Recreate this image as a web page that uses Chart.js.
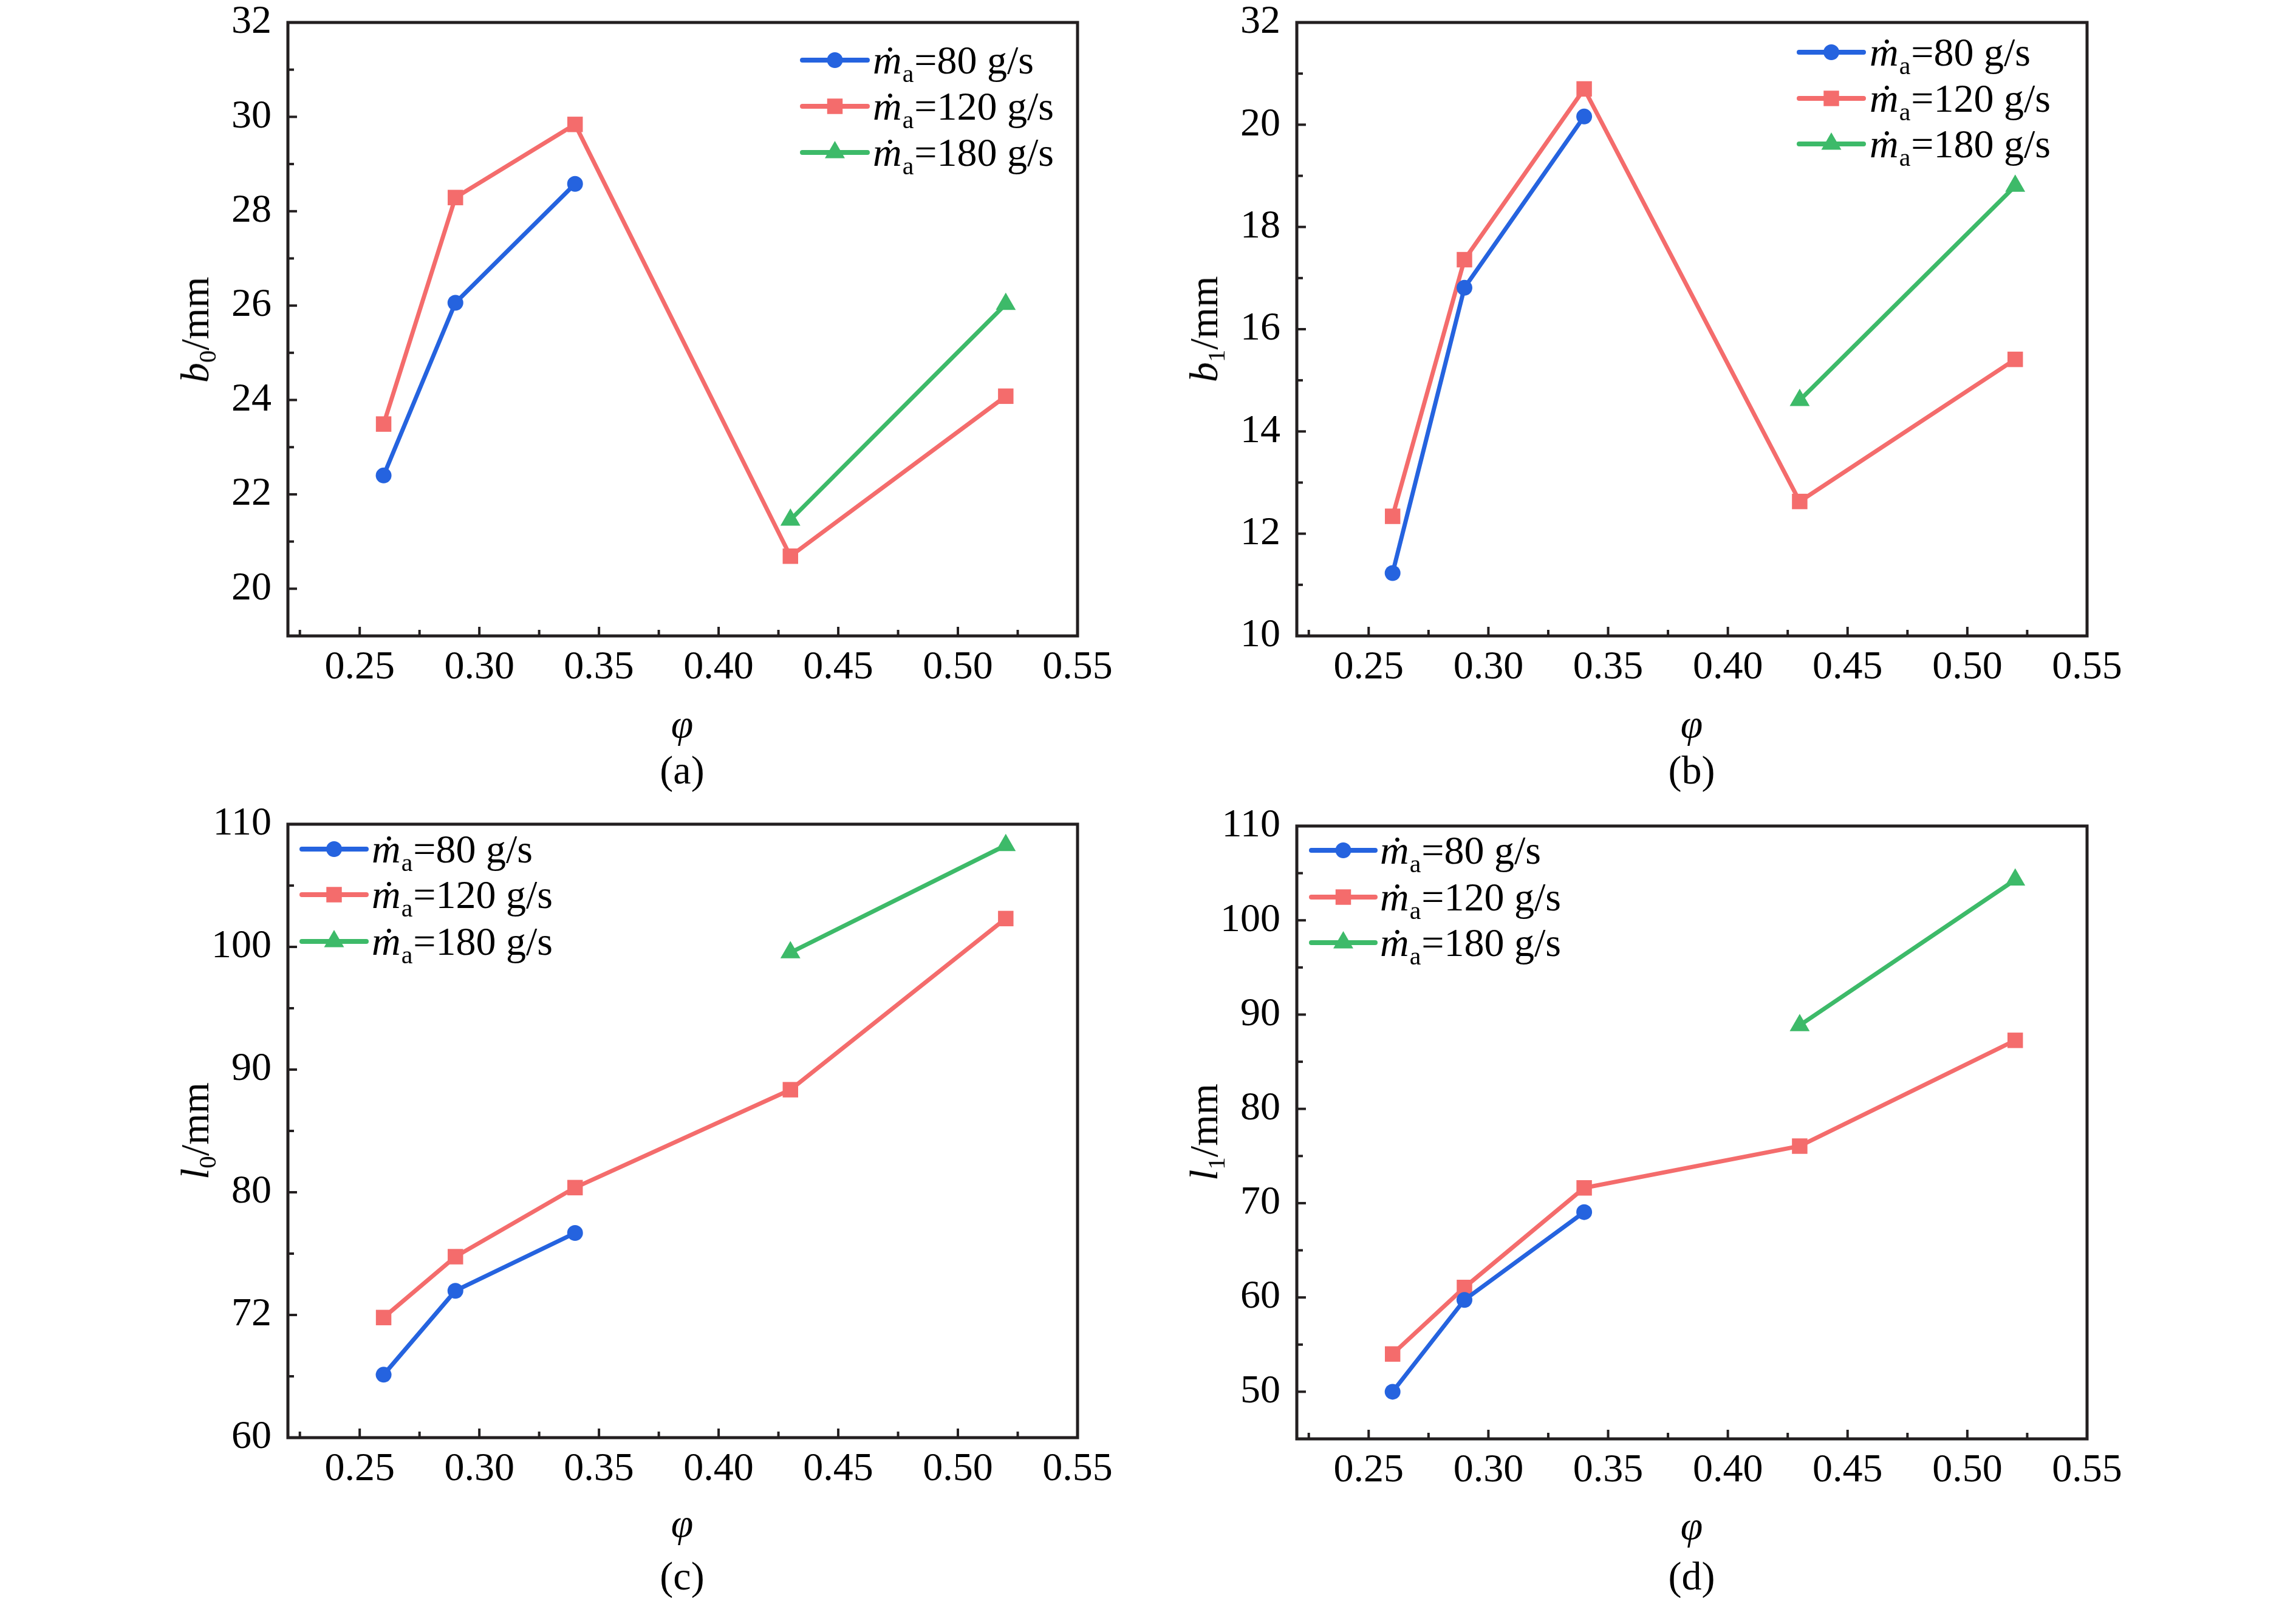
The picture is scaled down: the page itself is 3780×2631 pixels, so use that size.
<!DOCTYPE html>
<html><head><meta charset="utf-8">
<script src="https://cdn.jsdelivr.net/npm/chart.js@4.4.1/dist/chart.umd.min.js"></script>
<style>
html,body{margin:0;padding:0;background:#fff;}
#wrap{position:relative;width:3780px;height:2631px;overflow:hidden;background:#fff;}
canvas{position:absolute;}
.t{position:absolute;font-family:"Liberation Serif","Times New Roman",serif;font-size:66px;line-height:1;white-space:nowrap;color:#000;transform:translate(-50%,-50%);}
.rot{transform:translate(-50%,-50%) rotate(-90deg);}
.t sub{font-size:0.62em;vertical-align:baseline;position:relative;top:0.3em;}
</style></head><body><div id="wrap"></div>
<script>
// ---- data ----
const phi120 = [0.26, 0.29, 0.34, 0.43, 0.52];
const phi80  = [0.26, 0.29, 0.34];
const phi180 = [0.43, 0.52];
const seriesLabels = ['80 g/s', '120 g/s', '180 g/s'];

const b0_80  = [22.40, 26.06, 28.58];
const b0_120 = [23.49, 28.29, 29.84, 20.69, 24.08];
const b0_180 = [21.46, 26.03];

const b1_80  = [11.23, 16.81, 20.16];
const b1_120 = [12.34, 17.36, 20.70, 12.63, 15.41];
const b1_180 = [14.61, 18.80];

const l0_80  = [65.13, 71.97, 76.68];
const l0_120 = [69.79, 74.75, 80.38, 88.36, 102.31];
const l0_180 = [99.54, 108.28];

const l1_80  = [50.0, 59.74, 69.05];
const l1_120 = [54.0, 61.06, 71.62, 76.05, 87.27];
const l1_180 = [88.86, 104.3];

const xTickValues = [0.225,0.25,0.275,0.30,0.325,0.35,0.375,0.40,0.425,0.45,0.475,0.50,0.525,0.55];
const xTickLabels = ['','0.25','','0.30','','0.35','','0.40','','0.45','','0.50','','0.55'];

const aYTicks  = [19,20,21,22,23,24,25,26,27,28,29,30,31,32];
const aYLabels = ['','20','','22','','24','','26','','28','','30','','32'];
const bYTicks  = [10,11,12,13,14,15,16,17,18,19,20,21,22];
const bYLabels = ['10','','12','','14','','16','','18','','20','','32'];
const cYTicks  = [60,65,70,75,80,85,90,95,100,105,110];
const cYLabels = ['60','','72','','80','','90','','100','','110'];
const dYTicks  = [45,50,55,60,65,70,75,80,85,90,95,100,105,110];
const dYLabels = ['','50','','60','','70','','80','','90','','100','','110'];

// ---- styles ----
const BLUE = '#2563df', RED = '#f46c6c', GREEN = '#3dba69', AXIS = '#231f20';
const FONT = '"Liberation Serif", "Times New Roman", serif';

const panels = [
  {canvas:[0,0,1890,1180], area:[474,37,1774,1047], yMin:19, yMax:32, yTicks:aYTicks, yLabels:aYLabels,
   s80:b0_80, s120:b0_120, s180:b0_180, legend:{x0:1317,x1:1432,tx:1437,rows:[99,175,251]},
   yTitle:'<i>b</i><sub>0</sub>/mm', yTitlePos:[321,543], xTitlePos:[1123,1192], cap:'(a)', capPos:[1123,1268]},
  {canvas:[1890,0,1890,1180], area:[2135,37,3436,1047], yMin:10, yMax:22, yTicks:bYTicks, yLabels:bYLabels,
   s80:b1_80, s120:b1_120, s180:b1_180, legend:{x0:2958,x1:3072,tx:3078,rows:[86,162,237]},
   yTitle:'<i>b</i><sub>1</sub>/mm', yTitlePos:[1982,542], xTitlePos:[2785,1192], cap:'(b)', capPos:[2785,1268]},
  {canvas:[0,1300,1890,1180], area:[474,1357,1774,2367], yMin:60, yMax:110, yTicks:cYTicks, yLabels:cYLabels,
   s80:l0_80, s120:l0_120, s180:l0_180, legend:{x0:493,x1:607,tx:612,rows:[1398,1473,1550]},
   yTitle:'<i>l</i><sub>0</sub>/mm', yTitlePos:[321,1862], xTitlePos:[1123,2508], cap:'(c)', capPos:[1123,2595]},
  {canvas:[1890,1300,1890,1180], area:[2135,1360,3436,2369], yMin:45, yMax:110, yTicks:dYTicks, yLabels:dYLabels,
   s80:l1_80, s120:l1_120, s180:l1_180, legend:{x0:2155,x1:2268,tx:2272,rows:[1400,1477,1552]},
   yTitle:'<i>l</i><sub>1</sub>/mm', yTitlePos:[1982,1864], xTitlePos:[2785,2512], cap:'(d)', capPos:[2785,2595]}
];

const YW = 170, XH = 100;
const wrap = document.getElementById('wrap');

function pts(xs, ys){ return xs.map((x,i)=>({x:x, y:ys[i]})); }

function drawMarker(ctx, style, r, x, y, color){
  ctx.fillStyle = color;
  ctx.beginPath();
  if (style === 'circle') { ctx.arc(x, y, r, 0, Math.PI*2); }
  else if (style === 'rect') { const s = Math.SQRT1_2*r; ctx.rect(x-s, y-s, 2*s, 2*s); }
  else if (style === 'triangle') {
    ctx.moveTo(x, y - r);
    ctx.lineTo(x + Math.sin(2*Math.PI/3)*r, y + r/2);
    ctx.lineTo(x - Math.sin(2*Math.PI/3)*r, y + r/2);
    ctx.closePath();
  }
  ctx.fill();
}

function makePlugin(p){
  return {
    id: 'frameLegend',
    beforeDatasetsDraw(chart){
      const {ctx, chartArea:a, scales:{x, y}} = chart;
      ctx.save();
      ctx.strokeStyle = AXIS; ctx.lineWidth = 4;
      x.ticks.forEach((t,i)=>{
        const px = x.getPixelForValue(t.value), len = xTickLabels[i] ? 15 : 10;
        ctx.beginPath(); ctx.moveTo(px, a.bottom); ctx.lineTo(px, a.bottom - len); ctx.stroke();
      });
      y.ticks.forEach((t,i)=>{
        const py = y.getPixelForValue(t.value), len = p.yLabels[i] ? 15 : 10;
        ctx.beginPath(); ctx.moveTo(a.left, py); ctx.lineTo(a.left + len, py); ctx.stroke();
      });
      ctx.lineWidth = 5;
      ctx.strokeRect(a.left, a.top, a.right - a.left, a.bottom - a.top);
      ctx.restore();
    },
    afterDraw(chart){
      const ctx = chart.ctx, L = p.legend, ox = p.canvas[0], oy = p.canvas[1];
      ctx.save();
      chart.data.datasets.forEach((ds, i)=>{
        const yy = L.rows[i] - oy, x0 = L.x0 - ox, x1 = L.x1 - ox;
        ctx.strokeStyle = ds.borderColor; ctx.lineWidth = 8; ctx.lineCap = 'round';
        ctx.beginPath(); ctx.moveTo(x0 + 4, yy); ctx.lineTo(x1 - 4, yy); ctx.stroke();
        drawMarker(ctx, ds.pointStyle, ds.pointRadius, (x0+x1)/2, yy, ds.backgroundColor);
        let tx = L.tx - ox;
        ctx.fillStyle = '#000'; ctx.textBaseline = 'alphabetic'; ctx.textAlign = 'left';
        ctx.font = 'italic 66px ' + FONT;
        ctx.fillText('ṁ', tx, yy + 22); tx += ctx.measureText('ṁ').width;
        ctx.font = '42px ' + FONT;
        ctx.fillText('a', tx + 1, yy + 36); tx += ctx.measureText('a').width + 2;
        ctx.font = '66px ' + FONT;
        ctx.fillText('=' + ds.label, tx, yy + 22);
      });
      ctx.restore();
    }
  };
}

panels.forEach(p=>{
  const [cx, cy, cw, ch] = p.canvas;
  const [L, T, R, B] = p.area;
  const cv = document.createElement('canvas');
  cv.width = cw; cv.height = ch;
  cv.style.left = cx + 'px'; cv.style.top = cy + 'px';
  cv.style.width = cw + 'px'; cv.style.height = ch + 'px';
  wrap.appendChild(cv);

  const mk = (lbl, xs, ys, color, style, r) => ({
    label: lbl, data: pts(xs, ys), borderColor: color, backgroundColor: color,
    borderWidth: 7, pointStyle: style, pointRadius: r, pointHoverRadius: r,
    pointBorderWidth: 0, tension: 0, fill: false
  });

  new Chart(cv, {
    type: 'line',
    data: { datasets: [
      mk(seriesLabels[0], phi80, p.s80, BLUE, 'circle', 13),
      mk(seriesLabels[1], phi120, p.s120, RED, 'rect', 18),
      mk(seriesLabels[2], phi180, p.s180, GREEN, 'triangle', 19)
    ]},
    options: {
      responsive: false, animation: false, devicePixelRatio: 1,
      layout: { autoPadding: false, padding: { left: L - cx - YW, top: T - cy, right: cx + cw - R, bottom: cy + ch - B - XH } },
      plugins: { legend: { display: false }, tooltip: { enabled: false } },
      scales: {
        x: {
          type: 'linear', position: 'bottom', min: 0.22, max: 0.55,
          grid: { display: false, drawTicks: false }, border: { display: false },
          afterBuildTicks: s => { s.ticks = xTickValues.map(v => ({ value: v })); },
          afterFit: s => { s.height = XH; s.paddingLeft = 0; s.paddingRight = 0; },
          ticks: { autoSkip: false, maxRotation: 0, minRotation: 0, padding: 13, color: '#000',
            font: { family: FONT, size: 66 }, callback: (v, i) => xTickLabels[i] }
        },
        y: {
          type: 'linear', position: 'left', min: p.yMin, max: p.yMax,
          grid: { display: false, drawTicks: false }, border: { display: false },
          afterBuildTicks: s => { s.ticks = p.yTicks.map(v => ({ value: v })); },
          afterFit: s => { s.width = YW; s.paddingTop = 0; s.paddingBottom = 0; },
          ticks: { autoSkip: false, padding: 27, color: '#000',
            font: { family: FONT, size: 66 }, callback: (v, i) => p.yLabels[i] }
        }
      }
    },
    plugins: [makePlugin(p)]
  });

  const add = (html, pos, cls) => {
    const d = document.createElement('div');
    d.className = 't ' + (cls || '');
    d.innerHTML = html;
    d.style.left = pos[0] + 'px'; d.style.top = pos[1] + 'px';
    wrap.appendChild(d);
  };
  add(p.yTitle, p.yTitlePos, 'rot');
  add('<i>φ</i>', p.xTitlePos);
  add(p.cap, p.capPos);
});
</script>
</body></html>
